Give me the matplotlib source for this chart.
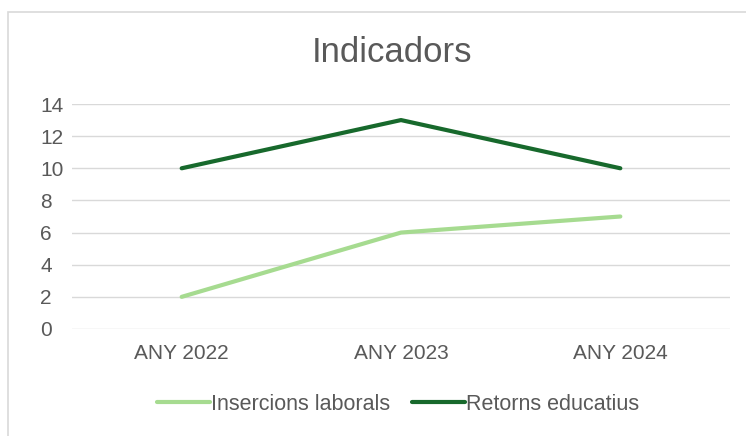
import matplotlib.pyplot as plt
from matplotlib.patches import Rectangle

# data
years = ["ANY 2022", "ANY 2023", "ANY 2024"]
insercions = [2, 6, 7]
retorns = [10, 13, 10]
yticks = [0, 2, 4, 6, 8, 10, 12, 14]

light = '#a6db90'
dark = '#17692c'
grey = '#595959'

plt.rcParams['font.family'] = ['Liberation Sans', 'DejaVu Sans']

fig = plt.figure(figsize=(7.46, 4.36), dpi=100)
ax = fig.add_axes([72/746, 1 - 329/436, (730-72)/746, (329-104)/436])

# outer chart border
fig.patches.append(Rectangle((8/746, -0.1), 1.2, 1 - 12/436 + 0.1, transform=fig.transFigure,
                             fill=False, edgecolor='#d9d9d9', linewidth=1.2))

x = range(len(years))
ax.plot(x, insercions, color=light, linewidth=3.0, label="Insercions laborals", solid_capstyle='round')
ax.plot(x, retorns, color=dark, linewidth=3.0, label="Retorns educatius", solid_capstyle='round')

ax.set_xlim(-0.5, 2.5)
ax.set_ylim(0, 14)
ax.set_yticks(yticks)
ax.set_xticks(list(x))
ax.set_xticklabels(years)
ax.grid(axis='y', color='#d9d9d9', linewidth=1)
ax.set_axisbelow(True)
for s in ax.spines.values():
    s.set_visible(False)
ax.tick_params(length=0, labelsize=15, colors=grey)
ax.tick_params(axis='x', pad=11)
ax.tick_params(axis='y', pad=23)
for lbl in ax.get_yticklabels():
    lbl.set_horizontalalignment('left')

fig.text(392/746, 1 - 52/436, "Indicadors", ha='center', va='center', fontsize=25, color=grey)

fig.legend(loc='center', bbox_to_anchor=(398/746, 1 - 404/436), ncol=2, frameon=False,
           fontsize=15.5, labelcolor=grey, handlelength=2.45, handletextpad=0.05, columnspacing=1.0)

fig.savefig("out.png", dpi=100)
